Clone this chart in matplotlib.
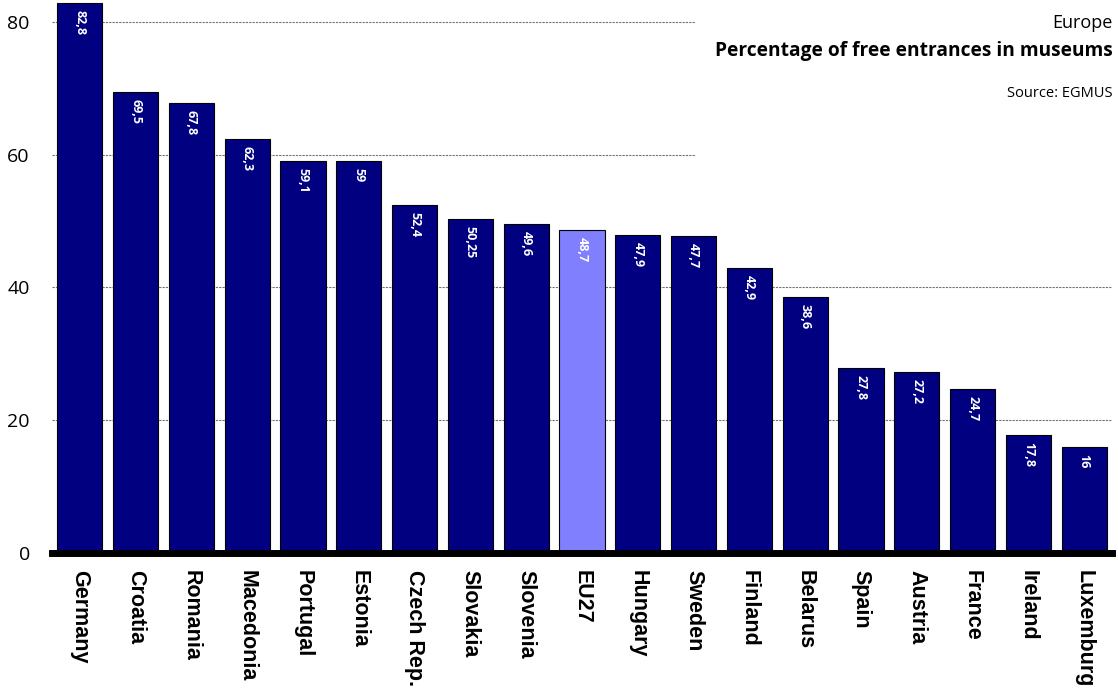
import matplotlib.pyplot as plt
from matplotlib.patches import Rectangle

# data
countries = ['Germany', 'Croatia', 'Romania', 'Macedonia', 'Portugal', 'Estonia',
             'Czech Rep.', 'Slovakia', 'Slovenia', 'EU27', 'Hungary', 'Sweden',
             'Finland', 'Belarus', 'Spain', 'Austria', 'France', 'Ireland', 'Luxemburg']
values = [82.8, 69.5, 67.8, 62.3, 59.1, 59, 52.4, 50.25, 49.6, 48.7, 47.9, 47.7,
          42.9, 38.6, 27.8, 27.2, 24.7, 17.8, 16]
value_labels = ['82,8', '69,5', '67,8', '62,3', '59,1', '59', '52,4', '50,25', '49,6',
                '48,7', '47,9', '47,7', '42,9', '38,6', '27,8', '27,2', '24,7', '17,8', '16']
yticks = [0, 20, 40, 60, 80]

navy = '#000080'
eu_color = '#8080FF'
colors = [eu_color if c == 'EU27' else navy for c in countries]

fig = plt.figure(figsize=(11.18, 6.96), dpi=100)
ax = fig.add_axes([52 / 1118, 143 / 696, 1060 / 1118, 553 / 696])

x = range(len(countries))
bars = ax.bar(x, values, width=0.81, color=colors, edgecolor='black', linewidth=0.8, zorder=3)

ax.set_xlim(-0.5, len(countries) - 0.5)
ax.set_ylim(0, 83.3)

# gridlines, partly hidden by the white title box
ax.set_yticks(yticks)
ax.yaxis.grid(True, color='#707070', linestyle=(0, (2, 1)), linewidth=0.8, zorder=1)
ax.set_axisbelow(True)
ax.add_patch(Rectangle((0.608, 0.71), 0.4, 0.3, transform=ax.transAxes,
                       facecolor='white', edgecolor='none', zorder=2))

for s in ['top', 'right', 'left']:
    ax.spines[s].set_visible(False)
ax.spines['bottom'].set_linewidth(5)
ax.spines['bottom'].set_zorder(4)

ax.set_xticks(list(x))
ax.set_xticklabels(countries, rotation=-90, fontsize=15.5, fontweight='bold',
                   family='Liberation Sans', va='top', ha='center')
ax.tick_params(axis='x', length=0, pad=12)
ax.tick_params(axis='y', length=0, pad=16, labelsize=14)
for lab in ax.get_yticklabels():
    lab.set_family('Open Sans')

# value labels inside the bars
for b, lab in zip(bars, value_labels):
    ax.annotate(lab, (b.get_x() + b.get_width() / 2, b.get_height()),
                xytext=(0, -5), textcoords='offset points', rotation=-90,
                ha='center', va='top', color='white', fontsize=9, fontweight='bold',
                family='Open Sans', zorder=5)

fig.text(0.995, 0.967, 'Europe', ha='right', va='center', fontsize=13, family='Open Sans')
fig.text(0.995, 0.927, 'Percentage of free entrances in museums', ha='right', va='center',
         fontsize=13.8, fontweight='bold', family='Open Sans')
fig.text(0.995, 0.866, 'Source: EGMUS', ha='right', va='center', fontsize=10.5, family='Open Sans')

fig.savefig('out.png', dpi=100)
